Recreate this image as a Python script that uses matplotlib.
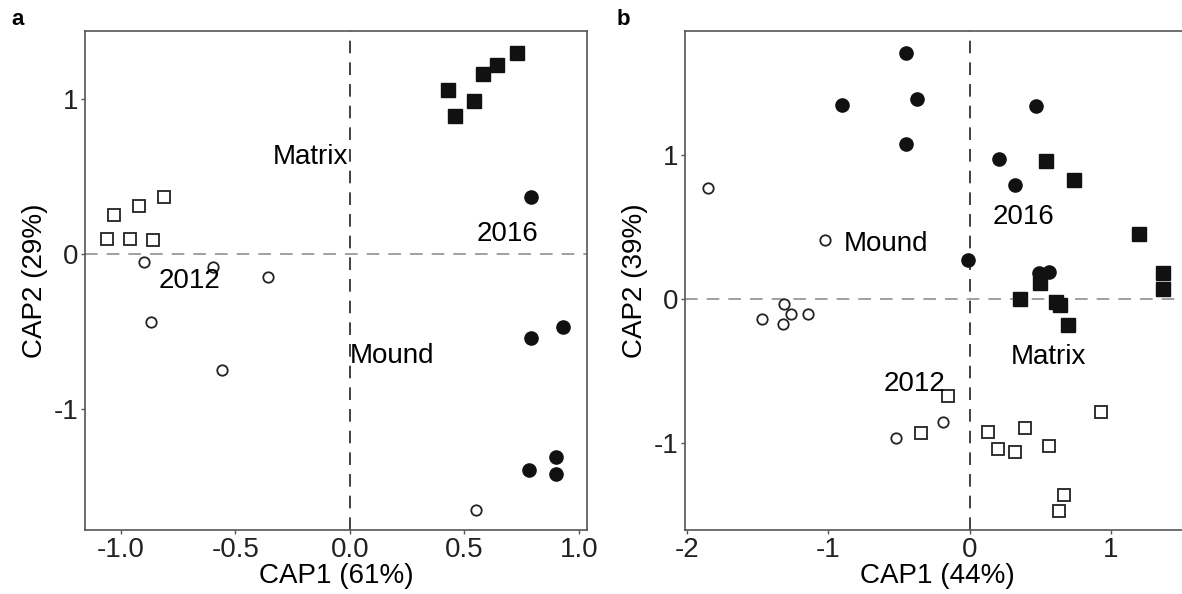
import numpy as np
import matplotlib as mpl
import matplotlib.pyplot as plt

mpl.rcParams['font.family'] = ['Liberation Sans', 'DejaVu Sans']
mpl.rcParams['font.size'] = 20
mpl.rcParams['axes.unicode_minus'] = False
mpl.rcParams['axes.edgecolor'] = '#555555'
mpl.rcParams['axes.linewidth'] = 1.2
mpl.rcParams['xtick.color'] = '#555555'
mpl.rcParams['ytick.color'] = '#555555'
mpl.rcParams['xtick.labelcolor'] = '#222222'
mpl.rcParams['ytick.labelcolor'] = '#222222'

# panel a: CAP scores
a_mound12_x = [-0.90, -0.60, -0.36, -0.87, -0.56, 0.55]
a_mound12_y = [-0.05, -0.08, -0.15, -0.44, -0.75, -1.65]
a_matrix12_x = [-1.06, -0.96, -0.86, -1.03, -0.92, -0.81]
a_matrix12_y = [0.10, 0.10, 0.09, 0.25, 0.31, 0.37]
a_mound16_x = [0.79, 0.79, 0.93, 0.90, 0.78, 0.90]
a_mound16_y = [0.37, -0.54, -0.47, -1.31, -1.39, -1.42]
a_matrix16_x = [0.43, 0.46, 0.54, 0.58, 0.64, 0.73]
a_matrix16_y = [1.06, 0.89, 0.99, 1.16, 1.22, 1.30]

# panel b: CAP scores
b_mound12_x = [-1.85, -1.02, -1.47, -1.31, -1.26, -1.32, -1.14, -0.52, -0.19]
b_mound12_y = [0.77, 0.41, -0.14, -0.03, -0.10, -0.17, -0.10, -0.96, -0.85]
b_matrix12_x = [-0.15, -0.34, 0.13, 0.39, 0.20, 0.32, 0.56, 0.93, 0.67, 0.63]
b_matrix12_y = [-0.67, -0.93, -0.92, -0.89, -1.04, -1.06, -1.02, -0.78, -1.36, -1.47]
b_mound16_x = [-0.45, -0.90, -0.37, -0.45, 0.47, 0.21, 0.32, -0.01, 0.49, 0.56]
b_mound16_y = [1.71, 1.35, 1.39, 1.08, 1.34, 0.97, 0.79, 0.27, 0.18, 0.19]
b_matrix16_x = [0.54, 0.74, 1.20, 0.50, 0.36, 0.61, 0.64, 0.70, 1.37, 1.37]
b_matrix16_y = [0.96, 0.83, 0.45, 0.11, 0.00, -0.02, -0.04, -0.18, 0.18, 0.07]


def draw(ax, m12x, m12y, x12x, x12y, m16x, m16y, x16x, x16y):
    ax.axvline(0, color='#333333', lw=1.3, dashes=(7, 5), zorder=1)
    ax.axhline(0, color='#999999', lw=1.3, dashes=(7, 5), zorder=1)
    ax.plot(m12x, m12y, 'o', ms=7.5, mfc='white', mec='#222222', mew=1.3, ls='none')
    ax.plot(x12x, x12y, 's', ms=8, mfc='white', mec='#222222', mew=1.3, ls='none')
    ax.plot(m16x, m16y, 'o', ms=9.5, color='#111111', ls='none')
    ax.plot(x16x, x16y, 's', ms=10, color='#111111', ls='none')
    ax.tick_params(direction='out', length=3, width=1, pad=2)


fig = plt.figure(figsize=(11.82, 5.94), dpi=100, facecolor='white')

ax1 = fig.add_axes([0.0719, 0.1077, 0.4247, 0.8401])
draw(ax1, a_mound12_x, a_mound12_y, a_matrix12_x, a_matrix12_y,
     a_mound16_x, a_mound16_y, a_matrix16_x, a_matrix16_y)
ax1.set_xlim(-1.157, 1.035)
ax1.set_ylim(-1.78, 1.44)
ax1.set_xticks([-1.0, -0.5, 0.0, 0.5, 1.0])
ax1.set_xticklabels(['-1.0', '-0.5', '0.0', '0.5', '1.0'])
ax1.set_yticks([-1, 0, 1])
ax1.set_yticklabels(['-1', '0', '1'])
ax1.set_xlabel('CAP1 (61%)', labelpad=0)
ax1.set_ylabel('CAP2 (29%)', labelpad=4)
ax1.text(-0.01, 0.63, 'Matrix', ha='right', va='center')
ax1.text(0.69, 0.13, '2016', ha='center', va='center')
ax1.text(-0.70, -0.17, '2012', ha='center', va='center')
ax1.text(0.0, -0.66, 'Mound', ha='left', va='center')

ax2 = fig.add_axes([0.5795, 0.1077, 0.4273, 0.8401])
draw(ax2, b_mound12_x, b_mound12_y, b_matrix12_x, b_matrix12_y,
     b_mound16_x, b_mound16_y, b_matrix16_x, b_matrix16_y)
ax2.set_xlim(-2.013, 1.56)
ax2.set_ylim(-1.60, 1.86)
ax2.set_xticks([-2, -1, 0, 1])
ax2.set_xticklabels(['-2', '-1', '0', '1'])
ax2.set_yticks([-1, 0, 1])
ax2.set_yticklabels(['-1', '0', '1'])
ax2.set_xlabel('CAP1 (44%)', labelpad=0)
ax2.set_ylabel('CAP2 (39%)', labelpad=4)
ax2.text(0.38, 0.57, '2016', ha='center', va='center')
ax2.text(-0.89, 0.38, 'Mound', ha='left', va='center')
ax2.text(0.56, -0.40, 'Matrix', ha='center', va='center')
ax2.text(-0.39, -0.585, '2012', ha='center', va='center')

fig.text(0.010, 0.968, 'a', fontsize=16, fontweight='bold', va='center')
fig.text(0.522, 0.968, 'b', fontsize=16, fontweight='bold', va='center')

fig.savefig('out.png', dpi=100)
